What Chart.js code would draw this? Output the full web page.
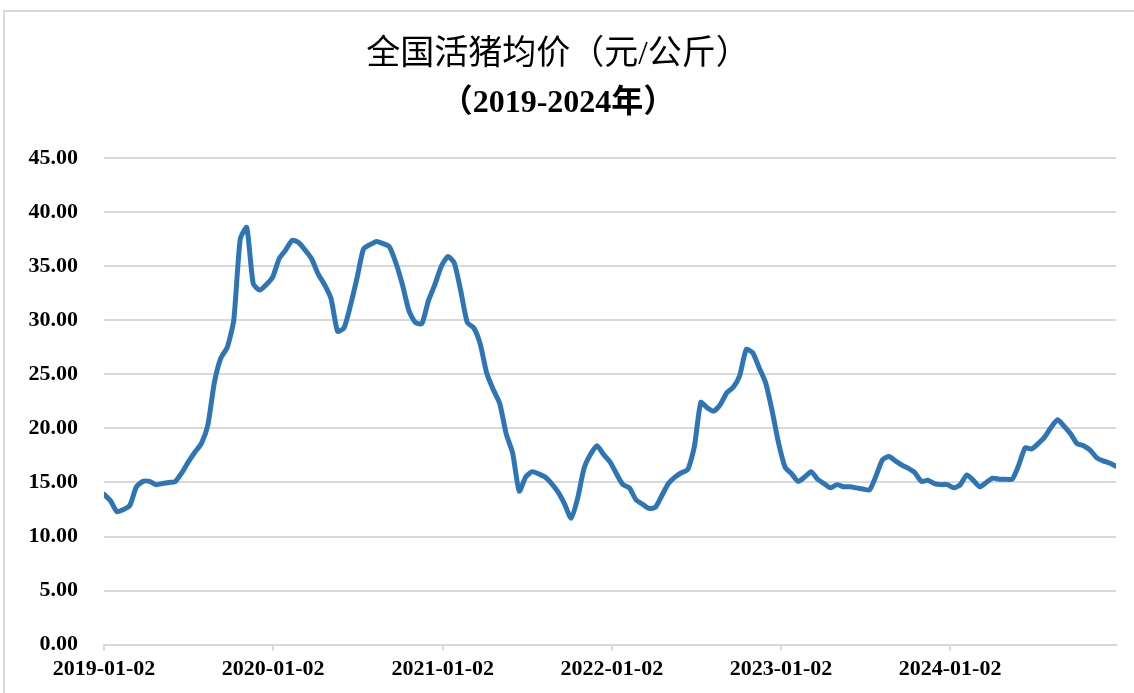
<!DOCTYPE html>
<html>
<head>
<meta charset="utf-8">
<script src="https://cdn.jsdelivr.net/npm/chart.js@4.4.0/dist/chart.umd.min.js"></script>
<style>
  html, body { margin: 0; padding: 0; background: #fff; }
  #frame { position: absolute; left: 3px; top: 10px; width: 1200px; height: 800px; border: 2px solid #d9d9d9; box-sizing: border-box; }
  #wrap { position: absolute; left: 0; top: 0; width: 1134px; height: 693px; }
</style>
</head>
<body>
<div id="frame"></div>
<div id="wrap"><canvas id="myChart"></canvas></div>
<script>
// x axis: days since 2019-01-02, one tick per year
const tickLabels = ['2019-01-02', '2020-01-02', '2021-01-02', '2022-01-02', '2023-01-02', '2024-01-02'];
const tickDays = [0, 365, 731, 1096, 1461, 1826];
const lastDay = 2184;
const stepDays = 14; // one reading every two weeks

// 全国活猪均价 元/公斤
const prices = [
  13.9, 13.3, 12.3, 12.5, 12.9, 14.6, 15.1, 15.1, 14.8, 14.9,
  15.0, 15.1, 15.9, 16.9, 17.8, 18.6, 20.3, 24.2, 26.5, 27.5,
  30.0, 37.5, 38.6, 33.4, 32.8, 33.3, 34.0, 35.7, 36.5, 37.4,
  37.2, 36.5, 35.7, 34.3, 33.3, 32.0, 29.0, 29.3, 31.4, 33.9,
  36.6, 37.0, 37.3, 37.1, 36.8, 35.3, 33.3, 30.9, 29.8, 29.7,
  31.8, 33.3, 35.0, 35.9, 35.3, 32.7, 29.8, 29.3, 27.8, 25.1,
  23.6, 22.3, 19.5, 17.7, 14.2, 15.5, 16.0, 15.8, 15.5, 14.9,
  14.1, 13.0, 11.7, 13.5, 16.3, 17.6, 18.4, 17.6, 16.9, 15.8,
  14.8, 14.5, 13.4, 13.0, 12.6, 12.7, 13.8, 14.9, 15.5, 15.9,
  16.2, 18.3, 22.4, 21.9, 21.6, 22.2, 23.3, 23.8, 24.9, 27.3,
  27.0, 25.6, 24.2, 21.6, 18.6, 16.4, 15.8, 15.1, 15.5, 16.0,
  15.3, 14.9, 14.5, 14.8, 14.6, 14.6, 14.5, 14.4, 14.3, 15.6,
  17.1, 17.4, 17.0, 16.6, 16.3, 15.9, 15.1, 15.2, 14.9, 14.8,
  14.8, 14.5, 14.8, 15.7, 15.2, 14.6, 15.0, 15.4, 15.3, 15.3,
  15.3, 16.6, 18.2, 18.1, 18.6, 19.2, 20.1, 20.8, 20.2, 19.5,
  18.6, 18.4, 18.0, 17.3, 17.0, 16.8, 16.5
];

const points = prices.map((v, i) => ({ x: i * stepDays, y: v }));

const gridColor = '#d9d9d9';
const serif = '"Liberation Serif", "Times New Roman", "Noto Sans CJK SC", serif';

const config = {
  type: 'line',
  data: {
    datasets: [{
      label: '全国活猪均价',
      data: points,
      borderColor: '#2e75b6',
      borderWidth: 5,
      pointRadius: 0,
      tension: 0.2,
      borderJoinStyle: 'round',
      borderCapStyle: 'round',
      fill: false
    }]
  },
  options: {
    responsive: true,
    maintainAspectRatio: false,
    animation: false,
    layout: { padding: { left: 0, right: 18, top: 0, bottom: 4 } },
    plugins: {
      legend: { display: false },
      tooltip: { enabled: false },
      title: {
        display: true,
        text: '全国活猪均价（元/公斤）',
        color: '#000',
        font: { family: serif, size: 34, weight: 'normal' },
        padding: { top: 35, bottom: 0 }
      },
      subtitle: {
        display: true,
        text: '（2019-2024年）',
        color: '#000',
        font: { family: serif, size: 32, weight: 'bold' },
        padding: { top: 9, bottom: 35 }
      }
    },
    scales: {
      x: {
        type: 'linear',
        min: 0,
        max: lastDay,
        afterBuildTicks: (scale) => { scale.ticks = tickDays.map(d => ({ value: d })); },
        ticks: {
          autoSkip: false,
          maxRotation: 0,
          padding: 6,
          color: '#000',
          font: { family: serif, size: 22, weight: 'bold' },
          callback: (value, index) => tickLabels[index]
        },
        grid: { drawOnChartArea: false, drawTicks: true, tickLength: 6, color: gridColor, lineWidth: 2 },
        border: { display: true, color: gridColor, width: 2 }
      },
      y: {
        min: 0,
        max: 45,
        afterFit: (scale) => { scale.width = 104; },
        ticks: {
          stepSize: 5,
          padding: 26,
          color: '#000',
          font: { family: serif, size: 22, weight: 'bold' },
          callback: (value) => value.toFixed(2)
        },
        grid: { color: gridColor, lineWidth: 2, drawTicks: false },
        border: { display: false }
      }
    }
  }
};

const myChart = new Chart(document.getElementById('myChart'), config);
</script>
</body>
</html>
